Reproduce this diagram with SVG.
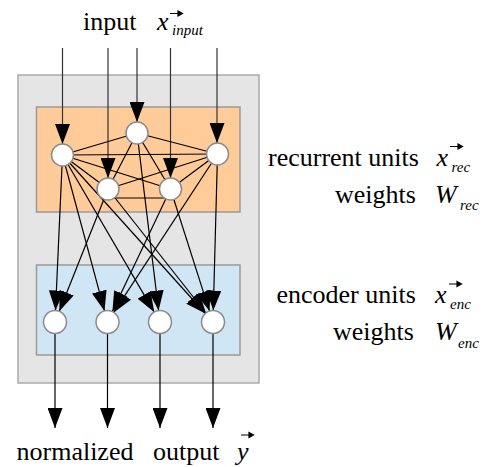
<svg xmlns="http://www.w3.org/2000/svg" width="486" height="467" viewBox="0 0 486 467">
<style>
text{font-family:'Liberation Serif','Tinos','DejaVu Serif',serif;fill:#000}
.txt{font-size:26px}
.it{font-style:italic}
.sub{font-size:15px;font-style:italic}
.node{fill:#fff;stroke:#8c8c8c;stroke-width:1.5}
.edge{stroke:#000;stroke-width:1.2;fill:none}
.arr{stroke:#000;stroke-width:1.2;fill:none;marker-end:url(#ah)}
.in{stroke:#333;stroke-width:1.2;fill:none;marker-end:url(#ah)}
.vec{stroke:#000;stroke-width:1.2;fill:#000}
</style>
<defs>
<marker id="ah" markerUnits="userSpaceOnUse" markerWidth="20" markerHeight="15" refX="20" refY="7.5" orient="auto">
<path d="M0,0 L20,7.5 L0,15 z" fill="#000"/>
</marker>
</defs>
<g id="boxes">
<rect x="18" y="75" width="241" height="308" fill="#e5e5e5" stroke="#aaaaaa" stroke-width="1.5"/>
<rect x="36.5" y="107" width="203.5" height="105" fill="#ffcc99" stroke="#9a9a9a" stroke-width="1.5"/>
<rect x="36.5" y="265" width="203.5" height="90" fill="#d0e6f4" stroke="#9a9a9a" stroke-width="1.5"/>
</g>
<g id="connectors">
<line class="in" x1="62.5" y1="48" x2="62.5" y2="144"/>
<line class="in" x1="108" y1="48" x2="108" y2="178"/>
<line class="in" x1="137" y1="48" x2="137" y2="122"/>
<line class="in" x1="170.5" y1="48" x2="170.5" y2="178"/>
<line class="in" x1="217" y1="48" x2="217" y2="143"/>
<line class="edge" x1="137" y1="133" x2="62.5" y2="155"/>
<line class="edge" x1="137" y1="133" x2="217.5" y2="154"/>
<line class="edge" x1="137" y1="133" x2="108" y2="189"/>
<line class="edge" x1="137" y1="133" x2="170.5" y2="189"/>
<line class="edge" x1="62.5" y1="155" x2="217.5" y2="154"/>
<line class="edge" x1="62.5" y1="155" x2="108" y2="189"/>
<line class="edge" x1="62.5" y1="155" x2="170.5" y2="189"/>
<line class="edge" x1="217.5" y1="154" x2="108" y2="189"/>
<line class="edge" x1="217.5" y1="154" x2="170.5" y2="189"/>
<line class="edge" x1="108" y1="198" x2="170.5" y2="198"/>
<line class="arr" x1="62.5" y1="155" x2="55.5" y2="310.5"/>
<line class="arr" x1="62.5" y1="155" x2="104.5" y2="310.9"/>
<line class="arr" x1="62.5" y1="155" x2="154.2" y2="312.1"/>
<line class="arr" x1="62.5" y1="155" x2="205.3" y2="313.5"/>
<line class="arr" x1="108" y1="189" x2="59.3" y2="311.3"/>
<line class="arr" x1="108" y1="189" x2="205.9" y2="313"/>
<line class="arr" x1="137" y1="133" x2="158.6" y2="310.6"/>
<line class="arr" x1="170.5" y1="189" x2="112.4" y2="311.6"/>
<line class="arr" x1="170.5" y1="189" x2="209.5" y2="311.1"/>
<line class="arr" x1="217.5" y1="154" x2="113.8" y2="312.4"/>
<line class="arr" x1="217.5" y1="154" x2="213.3" y2="310.5"/>
<line class="arr" x1="55" y1="333" x2="55" y2="428"/>
<line class="arr" x1="107.5" y1="333" x2="107.5" y2="428"/>
<line class="arr" x1="160" y1="333" x2="160" y2="428"/>
<line class="arr" x1="213" y1="333" x2="213" y2="428"/>
</g>
<g id="rec-T"><circle class="node" cx="137" cy="133" r="11"/></g>
<g id="rec-L"><circle class="node" cx="62.5" cy="155" r="11"/></g>
<g id="rec-R"><circle class="node" cx="217.5" cy="154" r="11"/></g>
<g id="rec-BL"><circle class="node" cx="108" cy="189" r="11"/></g>
<g id="rec-BR"><circle class="node" cx="170.5" cy="189" r="11"/></g>
<g id="enc-1"><circle class="node" cx="55" cy="322" r="11.5"/></g>
<g id="enc-2"><circle class="node" cx="107.5" cy="322" r="11.5"/></g>
<g id="enc-3"><circle class="node" cx="160" cy="322" r="11.5"/></g>
<g id="enc-4"><circle class="node" cx="213" cy="322" r="11.5"/></g>
<g id="labels">
<text class="txt" x="83" y="30">input</text>
<text class="txt it" x="157" y="30">x</text>
<text class="sub" x="172" y="35">input</text>
<path class="vec" d="M170,13.5 H181 M178,11 L182.5,13.5 L178,16 z"/>
<text class="txt" x="268" y="166">recurrent units</text>
<text class="txt it" x="436.5" y="166">x</text>
<text class="sub" x="451.5" y="172">rec</text>
<path class="vec" d="M450,146.5 H461 M458,144 L462.5,146.5 L458,149 z"/>
<text class="txt" x="335" y="203">weights</text>
<text class="txt it" x="435" y="203">W</text>
<text class="sub" x="460" y="210">rec</text>
<text class="txt" x="276.5" y="303">encoder units</text>
<text class="txt it" x="435" y="303">x</text>
<text class="sub" x="450" y="308.5">enc</text>
<path class="vec" d="M449,284 H460 M457,281.5 L461.5,284 L457,286.5 z"/>
<text class="txt" x="333" y="340">weights</text>
<text class="txt it" x="435" y="340">W</text>
<text class="sub" x="458" y="348">enc</text>
<text class="txt" x="16.5" y="460">normalized</text>
<text class="txt" x="153" y="460">output</text>
<text class="txt it" x="237" y="460">y</text>
<path class="vec" d="M241,435 H252 M249,432.5 L253.5,435 L249,437.5 z"/>
</g>
</svg>
